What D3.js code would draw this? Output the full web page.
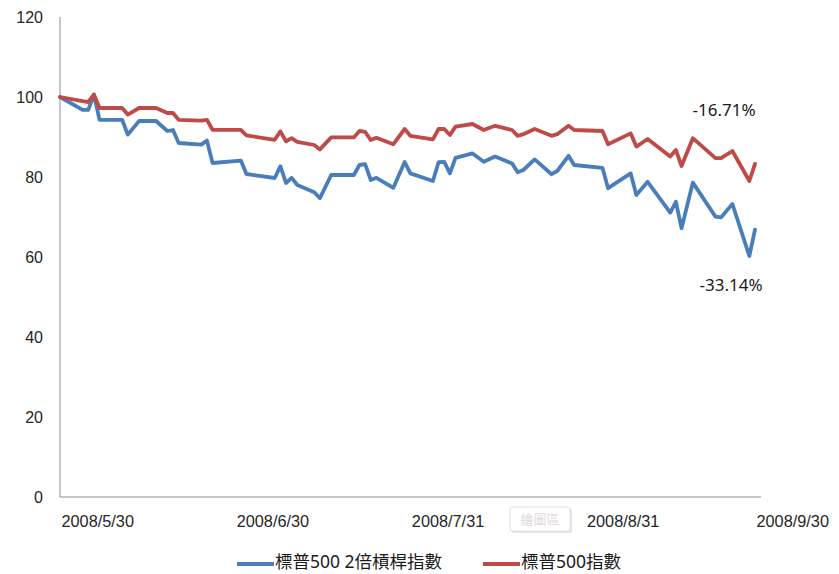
<!DOCTYPE html>
<html>
<head>
<meta charset="utf-8">
<script src="https://cdn.jsdelivr.net/npm/d3@7"></script>
<style>
  body { margin: 0; background: #fff; }
  svg { display: block; font-family: "Noto Sans", "Noto Sans CJK TC", sans-serif; }
  .axis text { fill: #262626; }
  .axis path { stroke: #8c8c8c; }
</style>
</head>
<body>
<svg id="chart" width="839" height="574"></svg>
<script>
// trading days (vertices)
const dates = [
  "2008-05-30", "2008-06-03", "2008-06-04", "2008-06-05", "2008-06-06", "2008-06-10",
  "2008-06-11", "2008-06-13", "2008-06-16", "2008-06-18", "2008-06-19", "2008-06-20",
  "2008-06-24", "2008-06-25", "2008-06-26", "2008-07-01", "2008-07-02", "2008-07-07",
  "2008-07-08", "2008-07-09", "2008-07-10", "2008-07-11", "2008-07-14", "2008-07-15",
  "2008-07-17", "2008-07-21", "2008-07-22", "2008-07-23", "2008-07-24", "2008-07-25",
  "2008-07-28", "2008-07-30", "2008-07-31", "2008-08-04", "2008-08-05", "2008-08-06",
  "2008-08-07", "2008-08-08", "2008-08-11", "2008-08-13", "2008-08-15", "2008-08-18",
  "2008-08-19", "2008-08-20", "2008-08-22", "2008-08-25", "2008-08-26", "2008-08-28",
  "2008-08-29", "2008-09-03", "2008-09-04", "2008-09-08", "2008-09-09", "2008-09-11",
  "2008-09-15", "2008-09-16", "2008-09-17", "2008-09-19", "2008-09-23", "2008-09-24",
  "2008-09-26", "2008-09-29", "2008-09-30"
];

// 標普500 2倍槓桿指數
const leveraged = [
  100, 96.8, 96.8, 100.6, 94.3, 94.3,
  90.6, 94.0, 94.0, 91.5, 91.75, 88.5,
  88.1, 89.1, 83.5, 84.1, 80.75, 79.75,
  82.7, 78.5, 79.8, 78.0, 76.2, 74.7,
  80.5, 80.5, 83.0, 83.2, 79.25, 79.8,
  77.3, 83.75, 80.9, 79.0, 83.7, 83.8,
  80.9, 84.8, 85.9, 83.8, 85.1, 83.4,
  81.2, 81.75, 84.4, 80.7, 81.5, 85.3,
  83.0, 82.3, 77.2, 80.9, 75.5, 78.8,
  71.1, 73.8, 67.2, 78.6, 70.1, 69.9,
  73.25, 60.25, 66.86
];

// 標普500指數
const spx = [
  100, 98.95, 98.75, 100.6, 97.25, 97.25,
  95.6, 97.25, 97.25, 96.0, 96.0, 94.3,
  94.1, 94.3, 91.8, 91.8, 90.4, 89.3,
  91.4, 88.9, 89.7, 88.8, 88.0, 86.9,
  89.9, 89.9, 91.5, 91.3, 89.25, 89.8,
  88.2, 92.0, 90.3, 89.4, 92.0, 92.0,
  90.5, 92.6, 93.25, 91.75, 92.8, 91.75,
  90.3, 90.7, 92.0, 90.3, 90.7, 92.8,
  91.75, 91.5, 88.2, 90.9, 87.6, 89.5,
  85.1, 86.75, 82.75, 89.7, 84.7, 84.7,
  86.5, 79.0, 83.29
];

const xTickLabels = ["2008/5/30", "2008/6/30", "2008/7/31", "2008/8/31", "2008/9/30"];
const yTicks = [0, 20, 40, 60, 80, 100, 120];
const seriesNames = ["標普500 2倍槓桿指數", "標普500指數"];
const seriesColors = ["#4a7ebb", "#be4b48"];
const endLabels = ["-33.14%", "-16.71%"];

const svg = d3.select("#chart");
const parse = d3.timeParse("%Y-%m-%d");
const parseTick = d3.timeParse("%Y/%m/%d");

const x = d3.scaleTime()
  .domain([parse("2008-05-30"), parse("2008-09-30")])
  .range([60, 755]);
const y = d3.scaleLinear().domain([0, 120]).range([497, 17]);

// y axis
const yAxis = svg.append("g")
  .attr("class", "axis")
  .attr("transform", "translate(60,0)")
  .call(d3.axisLeft(y).tickValues(yTicks).tickSize(0).tickPadding(17));
yAxis.select(".domain").attr("d", "M0,17V497");
yAxis.selectAll("text").attr("font-size", 16);

// x axis
const xAxis = svg.append("g")
  .attr("class", "axis")
  .attr("transform", "translate(0,497)")
  .call(d3.axisBottom(x)
    .tickValues(xTickLabels.map(parseTick))
    .tickFormat((d, i) => xTickLabels[i])
    .tickSize(0).tickPadding(18));
xAxis.select(".domain").attr("d", "M60,0H761");
xAxis.selectAll("text")
  .attr("font-size", 16.3)
  .attr("text-anchor", "start").attr("dx", 1);

// lines
const series = [leveraged, spx];
const line = d3.line()
  .x((d, i) => x(parse(dates[i])))
  .y(d => y(d));

series.forEach((vals, k) => {
  svg.append("path")
    .datum(vals)
    .attr("fill", "none")
    .attr("stroke", seriesColors[k])
    .attr("stroke-width", 3.8)
    .attr("stroke-linejoin", "round")
    .attr("stroke-linecap", "round")
    .attr("d", line);
});

// end annotations
svg.append("text")
  .attr("x", 731).attr("y", 291)
  .attr("text-anchor", "middle")
  .attr("font-size", 17).attr("fill", "#1a1a1a")
  .text(endLabels[0]);
svg.append("text")
  .attr("x", 724).attr("y", 116)
  .attr("text-anchor", "middle")
  .attr("font-size", 17).attr("fill", "#1a1a1a")
  .text(endLabels[1]);

// "繪圖區" tooltip box
const tip = svg.append("g").attr("transform", "translate(510,507)");
tip.append("rect")
  .attr("x", 2).attr("y", 2).attr("width", 60).attr("height", 24)
  .attr("rx", 2).attr("fill", "#e6e6e6");
tip.append("rect")
  .attr("width", 60).attr("height", 24)
  .attr("rx", 2).attr("fill", "#fff").attr("stroke", "#e0e0e0");
tip.append("text")
  .attr("x", 30).attr("y", 17)
  .attr("text-anchor", "middle")
  .attr("font-size", 13).attr("fill", "#e2dada")
  .text("繪圖區");

// legend
const legendX = [237, 483];
const legend = svg.append("g").attr("transform", "translate(0,564)");
seriesNames.forEach((name, k) => {
  legend.append("line")
    .attr("x1", legendX[k]).attr("x2", legendX[k] + 37)
    .attr("stroke", seriesColors[k]).attr("stroke-width", 3.8);
  legend.append("text")
    .attr("x", legendX[k] + 38).attr("y", 4)
    .attr("font-size", 17.5).attr("fill", "#1a1a1a")
    .text(name);
});
</script>
</body>
</html>
